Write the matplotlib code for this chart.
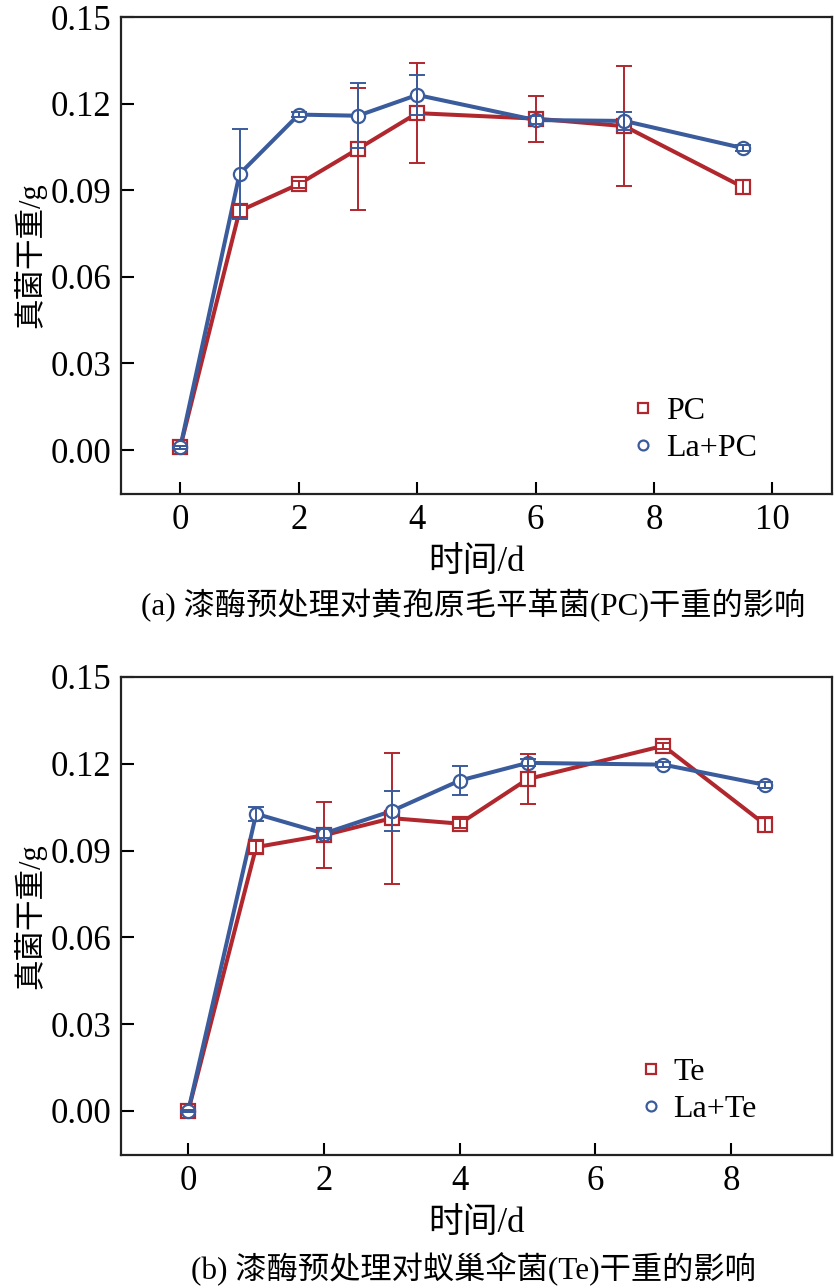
import matplotlib
matplotlib.use("Agg")
import matplotlib.pyplot as plt
import numpy as np

plt.rcParams['font.family'] = ['Liberation Serif', 'Noto Sans CJK SC', 'DejaVu Sans']
plt.rcParams['mathtext.fontset'] = 'stix'

RED = '#b0272e'
BLUE = '#3a5b9c'

# (a) PC
x_pc = [0, 1, 2, 3, 4, 6, 7.5, 9.5]
pc_mean = [0.001, 0.0828, 0.0921, 0.1043, 0.1167, 0.1148, 0.1122, 0.0911]
pc_err = [0.0005, 0.002, 0.0012, 0.0211, 0.0172, 0.008, 0.0208, 0.0025]
lapc_mean = [0.001, 0.0956, 0.1162, 0.1158, 0.1230, 0.1143, 0.1140, 0.1046]
lapc_err = [0.0005, 0.0156, 0.0008, 0.0112, 0.0070, 0.0015, 0.0030, 0.0010]

# (b) Te
x_te = [0, 1, 2, 3, 4, 5, 7, 8.5]
te_mean = [0.0, 0.0912, 0.0953, 0.1012, 0.0993, 0.1147, 0.1262, 0.0990]
te_err = [0.0003, 0.0020, 0.0114, 0.0226, 0.0015, 0.0087, 0.0010, 0.0025]
late_mean = [0.0, 0.1027, 0.0959, 0.1037, 0.1142, 0.1203, 0.1197, 0.1127]
late_err = [0.0003, 0.0025, 0.0015, 0.0070, 0.0050, 0.0012, 0.0008, 0.0010]

yticks = [0.00, 0.03, 0.06, 0.09, 0.12, 0.15]

fig = plt.figure(figsize=(8.35, 12.88), dpi=100)
ax1 = fig.add_axes([0.145, 0.6165, 0.851, 0.3703])
ax2 = fig.add_axes([0.145, 0.1033, 0.851, 0.3711])


def draw(ax, x, m1, e1, m2, e2, lab1, lab2, xlim, xticks):
    ax.plot(x, m1, '-', color=RED, lw=2.9, zorder=2)
    ax.plot(x, m2, '-', color=BLUE, lw=2.9, zorder=3)
    ax.plot(x, m1, 's', color=RED, mfc='white', mec=RED, ms=9.5, mew=1.6,
            zorder=4, label=lab1)
    ax.plot(x, m2, 'o', color=BLUE, mfc='white', mec=BLUE, ms=9.5, mew=1.6,
            zorder=5, label=lab2)
    ax.errorbar(x, m1, yerr=e1, fmt='none', ecolor=RED, elinewidth=1.4,
                capsize=6, capthick=1.4, zorder=6)
    ax.errorbar(x, m2, yerr=e2, fmt='none', ecolor=BLUE, elinewidth=1.4,
                capsize=6, capthick=1.4, zorder=7)
    ax.set_xlim(*xlim)
    ax.set_ylim(-0.0152, 0.15)
    ax.set_xticks(xticks)
    ax.set_yticks(yticks)
    ax.set_yticklabels(['%.2f' % v for v in yticks])
    ax.tick_params(direction='in', length=9, width=1.5, labelsize=25, pad=7)
    for s in ax.spines.values():
        s.set_linewidth(1.6)
        s.set_color('#222222')
    ax.set_ylabel('真菌干重/g', fontsize=22, labelpad=3)
    ax.set_xlabel('时间/d', fontsize=25, labelpad=7)
    leg = ax.legend(loc='lower right', bbox_to_anchor=(0.935, 0.005), frameon=False,
                    fontsize=23, handlelength=0.6, handletextpad=0.4,
                    labelspacing=0.22, markerscale=0.75)
    return leg


draw(ax1, x_pc, pc_mean, pc_err, lapc_mean, lapc_err, 'PC', 'La+PC',
     (-1, 11), [0, 2, 4, 6, 8, 10])
draw(ax2, x_te, te_mean, te_err, late_mean, late_err, 'Te', 'La+Te',
     (-0.99, 9.48), [0, 2, 4, 6, 8])

fig.text(0.567, 0.5295, '(a) 漆酶预处理对黄孢原毛平革菌(PC)干重的影响',
         ha='center', va='center', fontsize=22.5)
fig.text(0.567, 0.0145, '(b) 漆酶预处理对蚁巢伞菌(Te)干重的影响',
         ha='center', va='center', fontsize=22.5)

fig.savefig('out.png', dpi=100)
